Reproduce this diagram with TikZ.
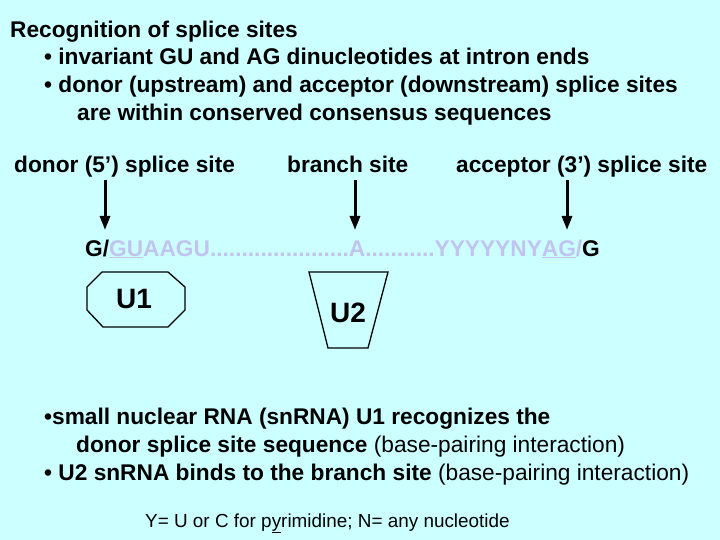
\documentclass[tikz,border=0pt]{standalone}
\usepackage{fontspec}
\setmainfont{Liberation Sans}
\usetikzlibrary{arrows.meta}
\definecolor{bg}{HTML}{CCFFFF}
\definecolor{seqc}{HTML}{C0C4EE}
\begin{document}
\begin{tikzpicture}[x=1pt,y=-1pt,
  big/.style={anchor=base west, inner sep=0pt, font=\fontsize{22.7}{27}\selectfont\bfseries},
  small/.style={anchor=base west, inner sep=0pt, font=\fontsize{18.9}{22}\selectfont},
  unode/.style={inner sep=0pt, font=\fontsize{28}{32}\selectfont\bfseries},
  arr/.style={line width=3pt, -{Triangle[length=14pt,width=10pt]}},
  shapeline/.style={draw=black, line width=1.3pt, line join=miter}]
\fill[bg] (0,0) rectangle (720,540);
\useasboundingbox (0,0) rectangle (720,540);

% heading
\node[big] (t0) at (10,38) {Recognition of splice sites};
\node[big] (t1) at (44,65) {• invariant GU and AG dinucleotides at intron ends};
\node[big] (t2) at (44,93) {• donor (upstream) and acceptor (downstream) splice sites};
\node[big] (t3) at (77,121) {are within conserved consensus sequences};

% site labels
\node[big] (lab1) at (14,173) {donor (5’) splice site};
\node[big] (lab2) at (287,173) {branch site};
\node[big] (lab3) at (456,173) {acceptor (3’) splice site};

% arrows
\coordinate (a1s) at (105,180); \coordinate (a1e) at (105,230);
\coordinate (a2s) at (355,180); \coordinate (a2e) at (355,230);
\coordinate (a3s) at (567,180); \coordinate (a3e) at (567,230);
\draw[arr] (a1s) -- (a1e);
\draw[arr] (a2s) -- (a2e);
\draw[arr] (a3s) -- (a3e);

% sequence
\node[big] (seq) at (85,256) {G/\textcolor{seqc}{\underline{GU}AAGU......................A...........YYYYYNY\underline{AG}/}G};

% U1 octagon
\draw[shapeline] (102,272) -- (168,272) -- (185,287) -- (185,310) -- (168,327)
  -- (103,327) -- (87,310) -- (87,287) -- cycle;
\node[unode] (u1) at (134,299) {U1};

% U2 trapezoid
\draw[shapeline] (309,272) -- (388,272) -- (368,348) -- (328,348) -- cycle;
\node[unode] (u2) at (348,313) {U2};

% bottom text
\node[big] (b1) at (44,424) {•small nuclear RNA (snRNA) U1 recognizes the};
\node[big] (b2) at (76,452) {donor splice site sequence\mdseries{} (base-pairing interaction)};
\node[big] (b3) at (44,480) {• U2 snRNA binds to the branch site\mdseries{} (base-pairing interaction)};

% footnote
\node[small] (fn) at (145,527) {Y= U or C for p\underline{y}rimidine; N= any nucleotide};
\end{tikzpicture}
\end{document}
